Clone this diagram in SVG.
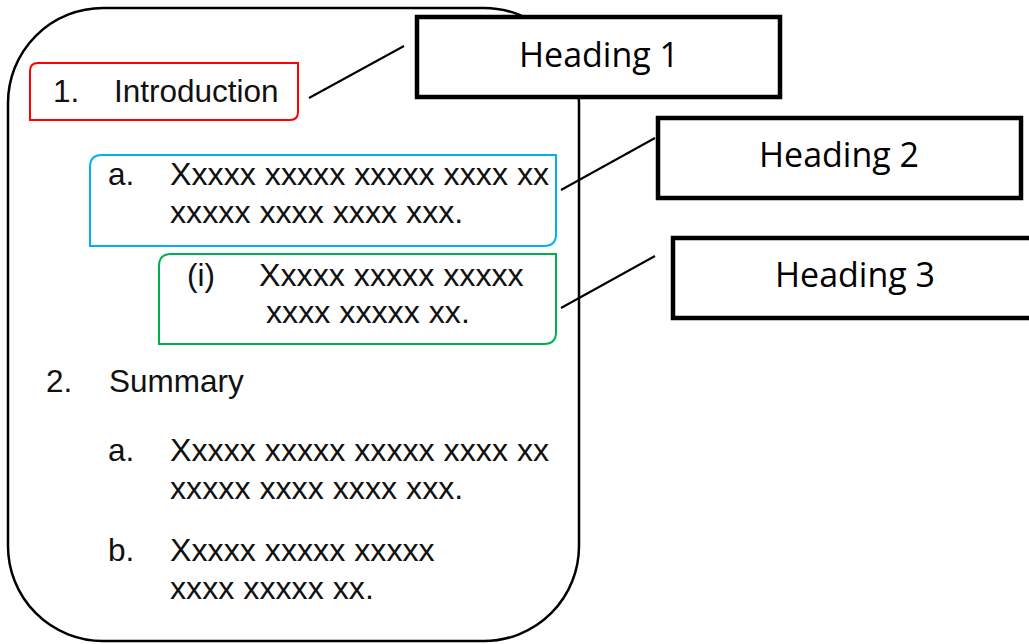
<svg xmlns="http://www.w3.org/2000/svg" width="1029" height="644" viewBox="0 0 1029 644">
<style>
.body{font-family:"Liberation Sans",Arial,sans-serif;font-size:31.5px;fill:#111}
.xx{font-size:32.2px}
.head{font-family:"Open Sans","Noto Sans",sans-serif;font-size:34px;fill:#000;text-anchor:middle}
.hbox{fill:#fff;stroke:#000;stroke-width:4.5}
.conn{stroke:#000;stroke-width:2;fill:none}
</style>
<rect width="1029" height="644" fill="#fff"/>
<g id="page">
<rect x="8" y="8" width="571" height="633" rx="95" ry="95" fill="#fff" stroke="#000" stroke-width="2.5"/>
</g>
<g id="connectors">
<line class="conn" x1="309" y1="98" x2="404" y2="46"/>
<line class="conn" x1="561" y1="190" x2="655" y2="138"/>
<line class="conn" x1="561" y1="308" x2="655" y2="256"/>
</g>
<g id="intro">
<path d="M38,63 H298 V112 Q298,120 290,120 H30 V71 Q30,63 38,63 Z" fill="none" stroke="#ff0000" stroke-width="2"/>
<text class="body" x="53" y="102">1.</text>
<text class="body" x="114" y="102">Introduction</text>
</g>
<g id="item-1a">
<path d="M102,155 H556 V234 Q556,246 544,246 H90 V167 Q90,155 102,155 Z" fill="none" stroke="#00b0f0" stroke-width="2"/>
<text class="body" x="108" y="185">a.</text>
<text class="body xx" x="170" y="185">Xxxxx xxxxx xxxxx xxxx xx</text>
<text class="body xx" x="170" y="223">xxxxx xxxx xxxx xxx.</text>
</g>
<g id="item-1ai">
<path d="M171,254 H556 V332 Q556,344 544,344 H159 V266 Q159,254 171,254 Z" fill="none" stroke="#00b050" stroke-width="2"/>
<text class="body" x="187" y="286">(i)</text>
<text class="body xx" x="259" y="286">Xxxxx xxxxx xxxxx</text>
<text class="body xx" x="266" y="323">xxxx xxxxx xx.</text>
</g>
<g id="summary">
<text class="body" x="46" y="392">2.</text>
<text class="body" x="109" y="392">Summary</text>
</g>
<g id="item-2a">
<text class="body" x="108" y="461">a.</text>
<text class="body xx" x="170" y="461">Xxxxx xxxxx xxxxx xxxx xx</text>
<text class="body xx" x="170" y="499">xxxxx xxxx xxxx xxx.</text>
</g>
<g id="item-2b">
<text class="body" x="108" y="561">b.</text>
<text class="body xx" x="170" y="561">Xxxxx xxxxx xxxxx</text>
<text class="body xx" x="170" y="599">xxxx xxxxx xx.</text>
</g>
<g id="heading-1">
<rect class="hbox" x="417" y="17" width="363" height="80"/>
<text class="head" x="599" y="67">Heading 1</text>
</g>
<g id="heading-2">
<rect class="hbox" x="658" y="118" width="363" height="80"/>
<text class="head" x="839" y="167">Heading 2</text>
</g>
<g id="heading-3">
<rect class="hbox" x="673" y="238" width="364" height="80"/>
<text class="head" x="855" y="287">Heading 3</text>
</g>
</svg>
